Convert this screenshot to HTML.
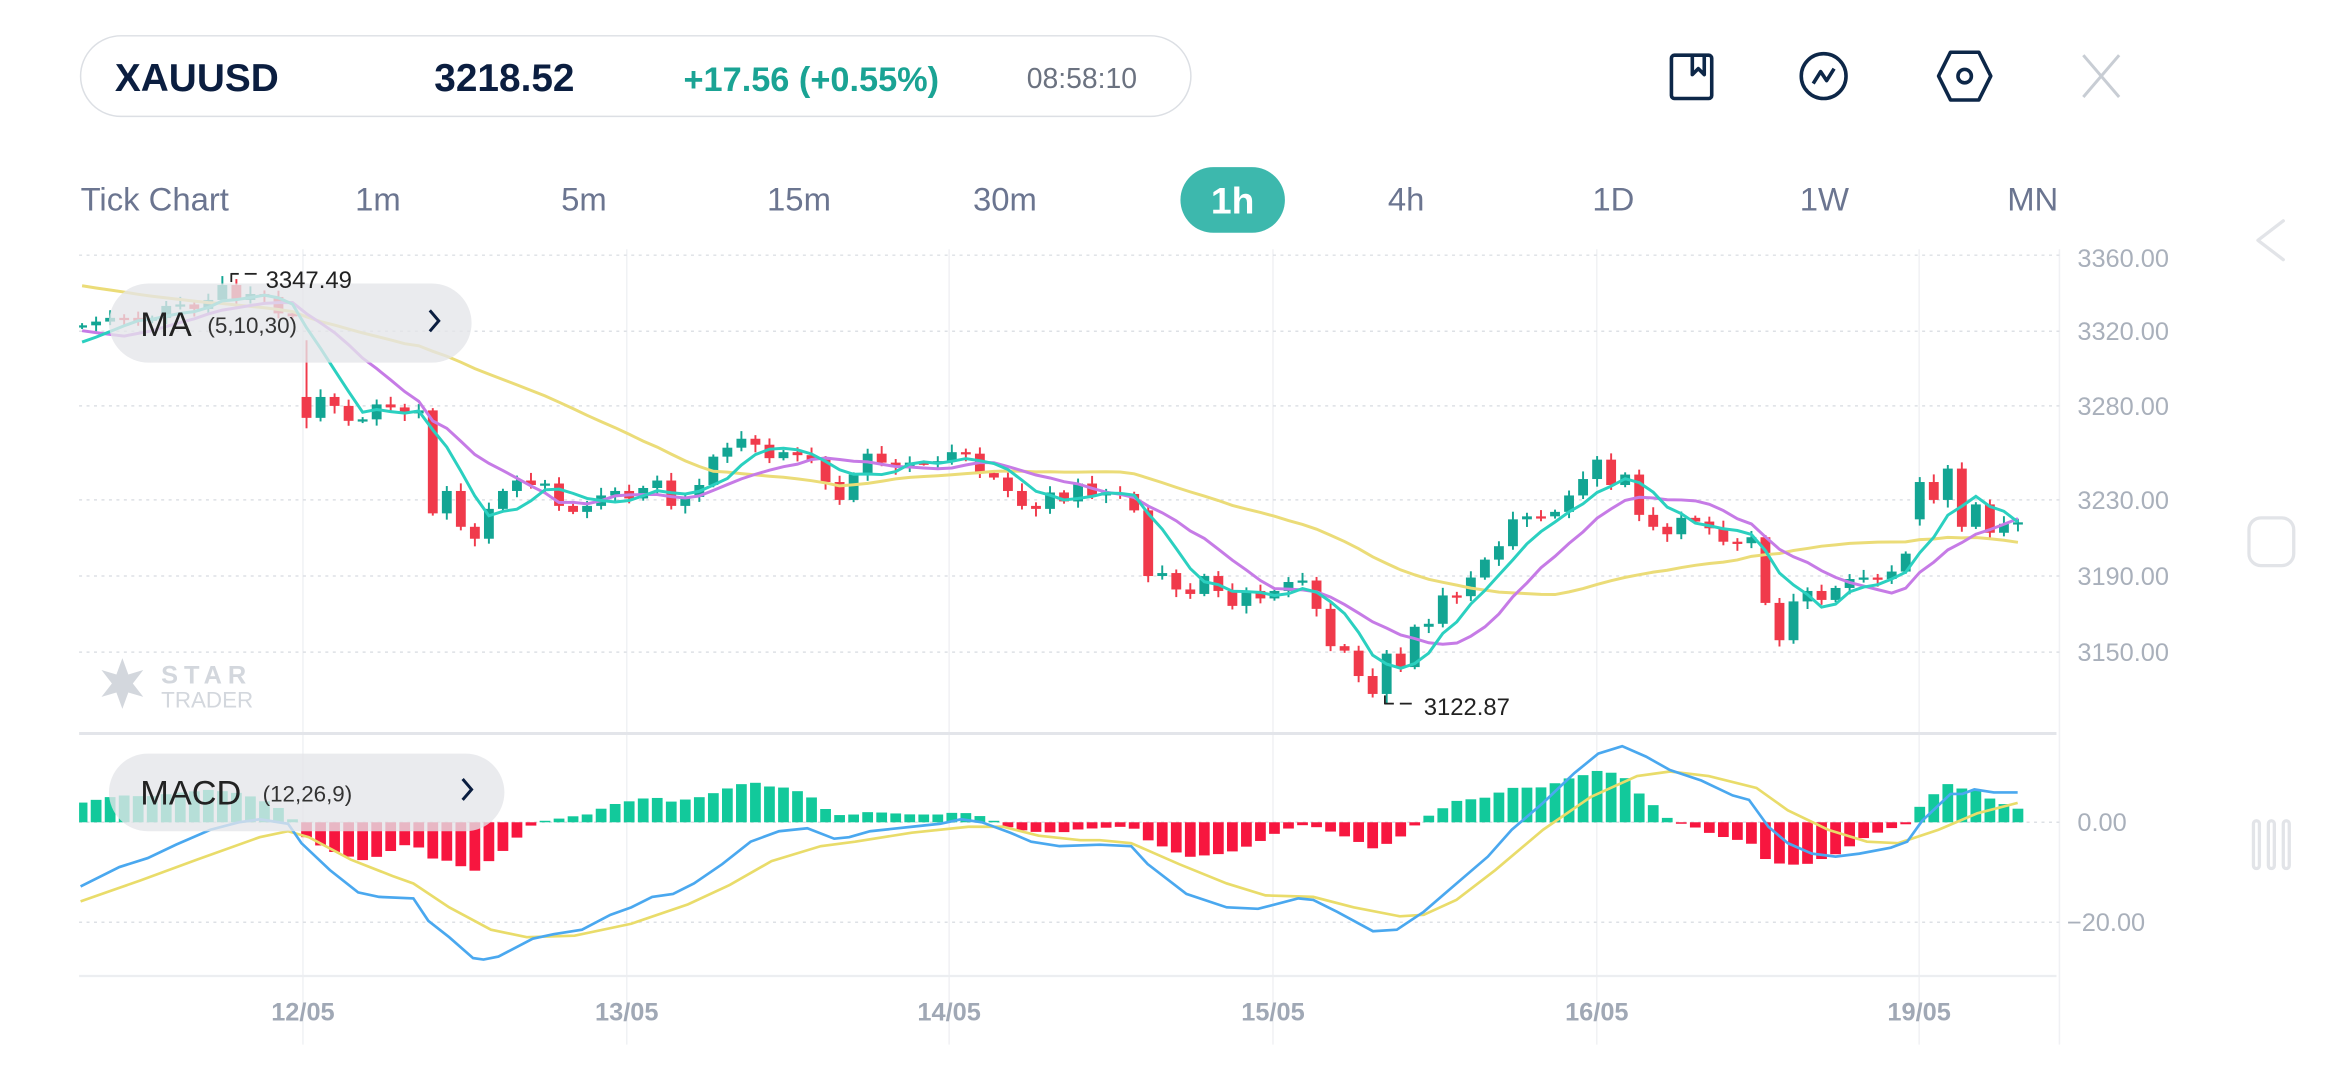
<!DOCTYPE html>
<html><head><meta charset="utf-8">
<style>
html,body{margin:0;padding:0;background:#fff;width:2340px;height:1080px;overflow:hidden}
svg{display:block}
text{font-family:"Liberation Sans",sans-serif}
</style></head>
<body>
<svg id="s" width="2340" height="1080" viewBox="0 0 1568 723.7" preserveAspectRatio="none" xmlns="http://www.w3.org/2000/svg">
<rect x="0" y="0" width="1568" height="724" fill="#fff"/>
<rect x="54" y="24" width="744" height="54" rx="27" fill="#fff" stroke="#dcdfe4" stroke-width="1"/>
<text x="77" y="61" font-size="26" font-weight="bold" fill="#0b1e40">XAUUSD</text>
<text x="291" y="61" font-size="26" font-weight="bold" fill="#0b1e40">3218.52</text>
<text x="458" y="61" font-size="23" font-weight="bold" fill="#1aa394">+17.56 (+0.55%)</text>
<text x="688" y="59" font-size="19" fill="#6b7280">08:58:10</text>
<g fill="none" stroke="#0d2748" stroke-width="2.4" stroke-linejoin="round">
<rect x="1120" y="37" width="27" height="29" rx="2"/>
<path d="M1134 37 V50 L1138 46 L1142 50 V37"/>
<circle cx="1222" cy="51" r="15"/>
<path d="M1215 56 L1220 48 L1224 54 L1229 46"/>
<path d="M1307 35 H1326 L1334 51 L1326 67 H1307 L1299 51 Z"/>
<circle cx="1316.5" cy="51" r="4.5"/>
</g>
<g stroke="#c8cdd4" stroke-width="2"><line x1="1396" y1="37" x2="1420" y2="65"/><line x1="1420" y1="37" x2="1396" y2="65"/></g>
<g font-size="22" fill="#6b7590">
<text x="54" y="141">Tick Chart</text>
<text x="238" y="141">1m</text>
<text x="376" y="141">5m</text>
<text x="514" y="141">15m</text>
<text x="652" y="141">30m</text>
<text x="930" y="141">4h</text>
<text x="1067" y="141">1D</text>
<text x="1206" y="141">1W</text>
<text x="1345" y="141">MN</text>
</g>
<rect x="791" y="112" width="70" height="44" rx="22" fill="#3db8ad"/>
<text x="826" y="143" font-size="25" font-weight="bold" fill="#fff" text-anchor="middle">1h</text>
<g fill="none" stroke="#e2e4e8" stroke-width="2.2" stroke-linejoin="round" stroke-linecap="round">
<path d="M1530 148 L1513 161 L1530 174"/>
<rect x="1507" y="347" width="30" height="32" rx="8"/>
<rect x="1510" y="550" width="4" height="32" rx="2"/>
<rect x="1520" y="550" width="4" height="32" rx="2"/>
<rect x="1530" y="550" width="4" height="32" rx="2"/>
</g>
<g stroke="#f0f1f4" stroke-width="1">
<line x1="203" y1="167" x2="203" y2="700"/><line x1="420" y1="167" x2="420" y2="700"/>
<line x1="636" y1="167" x2="636" y2="700"/><line x1="853" y1="167" x2="853" y2="700"/>
<line x1="1070" y1="167" x2="1070" y2="700"/><line x1="1286" y1="167" x2="1286" y2="700"/>
<line x1="1380" y1="167" x2="1380" y2="700"/>
</g>
<g stroke="#dde0e5" stroke-width="1" stroke-dasharray="2 3">
<line x1="53" y1="171" x2="1380" y2="171"/><line x1="53" y1="222" x2="1380" y2="222"/>
<line x1="53" y1="272" x2="1380" y2="272"/><line x1="53" y1="335" x2="1380" y2="335"/>
<line x1="53" y1="386" x2="1380" y2="386"/><line x1="53" y1="437" x2="1380" y2="437"/>
<line x1="53" y1="551" x2="1380" y2="551"/><line x1="53" y1="618" x2="1380" y2="618"/>
</g>
<line x1="53" y1="491.5" x2="1378" y2="491.5" stroke="#e3e5ea" stroke-width="2"/>
<line x1="53" y1="654" x2="1378" y2="654" stroke="#eceef1" stroke-width="1.5"/>
<g font-size="17" fill="#a9b0bb">
<text x="1392" y="179">3360.00</text><text x="1392" y="228">3320.00</text>
<text x="1392" y="278">3280.00</text><text x="1392" y="341">3230.00</text>
<text x="1392" y="392">3190.00</text><text x="1392" y="443">3150.00</text>
<text x="1392" y="557">0.00</text><text x="1385" y="624">−20.00</text>
</g>
<g font-size="17" fill="#a0a8b5" font-weight="bold" text-anchor="middle">
<text x="203" y="684">12/05</text><text x="420" y="684">13/05</text><text x="636" y="684">14/05</text>
<text x="853" y="684">15/05</text><text x="1070" y="684">16/05</text><text x="1286" y="684">19/05</text>
</g>
<g fill="#d3d7dd">
<path d="M82 441 L86 452 L96 449 L89 458 L96 467 L86 464 L82 475 L78 464 L68 467 L75 458 L68 449 L78 452 Z"/>
<text x="108" y="458" font-size="17" font-weight="bold" letter-spacing="4">STAR</text>
<text x="108" y="474" font-size="15">TRADER</text>
</g>
<g id="chart"></g>
<rect x="73" y="190" width="243" height="53" rx="26.5" fill="#e4e6e9" fill-opacity="0.78"/>
<text x="94" y="225" font-size="23" fill="#222">MA</text>
<text x="139" y="223" font-size="15" fill="#333">(5,10,30)</text>
<path d="M288 208 L294 215 L288 222" fill="none" stroke="#0b1e40" stroke-width="2"/>
<rect x="73" y="505" width="265" height="52" rx="26" fill="#e4e6e9" fill-opacity="0.78"/>
<text x="94" y="539" font-size="23" fill="#222">MACD</text>
<text x="176" y="537" font-size="15" fill="#333">(12,26,9)</text>
<path d="M310 522 L316 529 L310 536" fill="none" stroke="#0b1e40" stroke-width="2"/>
<g stroke="#222" stroke-width="1.2">
<line x1="155" y1="183" x2="155" y2="189"/><line x1="155" y1="183.5" x2="160" y2="183.5"/><line x1="164" y1="183.5" x2="172" y2="183.5"/>
<line x1="928" y1="466" x2="928" y2="472"/><line x1="928" y1="471.5" x2="934" y2="471.5"/><line x1="938" y1="471.5" x2="946" y2="471.5"/>
</g>
<text x="178" y="193" font-size="16" fill="#222">3347.49</text>
<text x="954" y="479" font-size="16" fill="#222">3122.87</text>
</svg>
<script>
(function(){
var A=[218,215.5,213,213,215,213,205,204,207,201,191,201,197,199,210,212,280,266,272,282,281,271,273,277,275,344,329,353,361,341,329,322,325,324,339,343,339,332,329,334,327,322,339,333,325,306,300,294,298,307,303,305];
var B=[308,323,335,318,304,310,313,310,310.5,309,303,304,317,320,329,339,341,330,336,324,332,330,331,342,386,384,395,398,386,396,406,396,401,396,390,389,408,433,436,453,465,438,447,420,418,399,399.5,387,375,366,348,346,346,343];
var C=[332,321,308,325,318,345,353,358,347,349.5,354,363,364,360,404,429,403,396,402,394,388,387,388,383,371,323,335,314,353,338,357,351,350];
var cl=A.concat(B,C),n=cl.length,sp=9.4,x0=55;
var op={16:266,131:348},hi={10:185,11:187,16:228},lo={93:472,16:287};
var g=document.getElementById('chart'),h='';
function X(i){return x0+i*sp;}
var pre=[];for(var k=0;k<30;k++){pre.push(k<18?172:(k<24?202:232));}
var all=pre.concat(cl);
function ma(p){var pts=[];for(var i=0;i<n;i++){var s=0;for(var j=0;j<p;j++)s+=all[30+i-j];pts.push(X(i).toFixed(1)+','+(s/p).toFixed(1));}return pts.join(' ');}
h+='<defs><clipPath id="cp"><rect x="53" y="167" width="1327" height="323"/></clipPath><clipPath id="cm"><rect x="53" y="493" width="1327" height="160"/></clipPath></defs>';
h+='<g clip-path="url(#cp)">';
for(var i=0;i<n;i++){
 var c=cl[i],o=(op[i]!==undefined)?op[i]:(i?cl[i-1]:219);
 var up=c<o,col=up?'#13a593':'#f03a4b';
 var t=Math.min(o,c),b=Math.max(o,c);
 var hh=hi[i]!==undefined?hi[i]:t-(1.5+((i*37)%5)*0.9);
 var ll=lo[i]!==undefined?lo[i]:b+(1.5+((i*53)%5)*0.9);
 var x=X(i);
 h+='<line x1="'+x+'" y1="'+hh+'" x2="'+x+'" y2="'+ll+'" stroke="'+col+'" stroke-width="1.3"/>';
 h+='<rect x="'+(x-3.3)+'" y="'+t+'" width="6.6" height="'+Math.max(b-t,1.5)+'" fill="'+col+'"/>';
}
h+='<polyline points="'+ma(30)+'" fill="none" stroke="#ebdc78" stroke-width="2"/>';
h+='<polyline points="'+ma(10)+'" fill="none" stroke="#c67be6" stroke-width="2"/>';
h+='<polyline points="'+ma(5)+'" fill="none" stroke="#2bd0c0" stroke-width="2"/>';
h+='</g>';
var DIF=[[54,594],[80,581],[99,575],[118,566],[141,556],[160,551],[174,549],[193,552],[202,565],[221,583],[240,598],[254,601],[277,602],[287,617],[301,628],[317,642],[324,643],[334,641],[357,629],[371,626],[390,623],[409,613],[423,608],[437,601],[451,599],[465,592],[484,579],[503,564],[522,557],[541,555],[559,562],[569,561],[583,557],[611,554],[630,552],[644,549],[658,551],[677,558],[691,564],[710,567],[737,566],[758,567],[769,579],[795,599],[822,608],[843,609],[870,602],[880,603],[896,611],[920,624],[936,623],[954,611],[976,592],[997,574],[1013,556],[1034,538],[1055,518],[1071,505],[1087,500],[1103,507],[1119,516],[1140,523],[1161,533],[1172,536],[1185,554],[1198,565],[1214,572],[1230,574],[1246,572],[1267,568],[1278,564],[1288,550],[1307,532],[1315,532],[1323,529],[1336,531],[1352,531]];
var DEA=[[54,604],[94,590],[132,576],[174,561],[193,557],[207,561],[235,576],[263,587],[277,592],[301,608],[329,623],[353,628],[385,627],[423,619],[461,606],[489,593],[517,577],[550,567],[573,564],[611,558],[649,554],[672,554],[696,560],[724,563],[737,563],[758,565],[790,579],[822,592],[848,600],[880,601],[907,608],[938,614],[954,613],[976,603],[1002,583],[1034,556],[1066,534],[1097,520],[1119,517],[1145,520],[1177,528],[1198,543],[1225,556],[1251,564],[1272,565],[1299,556],[1325,545],[1352,538]];
function itp(a,x){if(x<=a[0][0])return a[0][1];for(var i=1;i<a.length;i++){if(x<=a[i][0]){var t=(x-a[i-1][0])/(a[i][0]-a[i-1][0]);return a[i-1][1]+t*(a[i][1]-a[i-1][1]);}}return a[a.length-1][1];}
h+='<g clip-path="url(#cm)">';
for(var i=0;i<n;i++){var x=X(i),d=(itp(DEA,x)-itp(DIF,x))*1.3;
 if(Math.abs(d)<1)d=d<0?-1:1;
 if(d>0)h+='<rect x="'+(x-3.6)+'" y="'+(551-d)+'" width="7.2" height="'+d+'" fill="#12c99b"/>';
 else h+='<rect x="'+(x-3.6)+'" y="551" width="7.2" height="'+(-d)+'" fill="#f7163f"/>';}
function pl(a){return a.map(function(p){return p[0]+','+p[1];}).join(' ');}
h+='<polyline points="'+pl(DEA)+'" fill="none" stroke="#e9dc6a" stroke-width="1.8"/>';
h+='<polyline points="'+pl(DIF)+'" fill="none" stroke="#4aa8ef" stroke-width="1.8"/>';
h+='</g>';
g.innerHTML=h;
})();
</script>
</body></html>
